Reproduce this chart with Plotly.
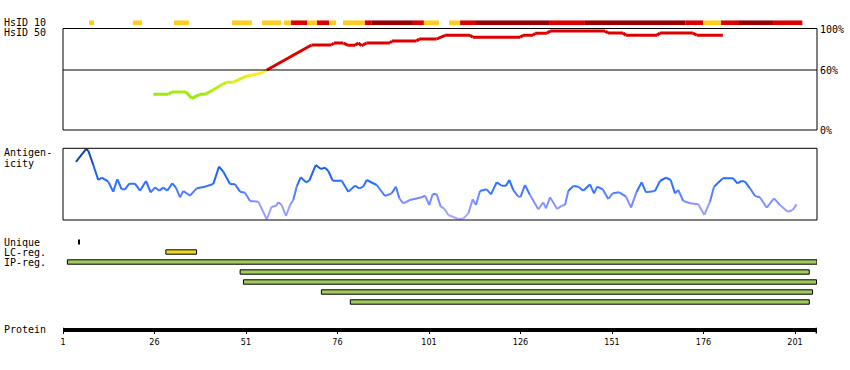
import plotly.graph_objects as go

# ---------------- data ----------------
# HsID 10 identity segments (residue start, end, class)
hs10_start = [8.1, 20.1, 31.3, 47.2, 55.4, 61.4, 63.3, 67.7, 70.4, 73.7, 77.5, 83.5, 85.4, 96.6,
              99.6, 106.5, 109.5, 113.6, 133.8, 143.6, 171.0, 175.9, 180.8, 185.7, 195.0]
hs10_end = [9.5, 22.6, 35.4, 52.6, 60.6, 63.3, 67.7, 70.4, 73.7, 75.6, 83.5, 85.4, 96.6, 99.6,
            103.7, 109.5, 113.6, 133.8, 143.6, 171.0, 175.9, 180.8, 185.7, 195.0, 203.0]
hs10_class = ["mid", "mid", "mid", "mid", "mid", "mid", "high", "mid", "high", "mid", "mid", "high",
              "top", "high", "mid", "mid", "high", "top", "high", "top", "high", "mid", "high", "top", "high"]

# HsID 50 identity (%)
hs50_res = [25.7, 29.8, 30.7, 34.6, 36.2, 38.4, 39.8, 40.3, 42.0, 43.9, 45.7, 47.4, 51.5, 52.9, 54.8,
            56.7, 68.9, 74.4, 75.0, 77.6, 78.9, 80.8, 81.7, 82.6, 83.9, 90.3, 90.9, 97.6, 98.3, 103.1,
            105.4, 112.2, 113.0, 125.9, 126.7, 129.4, 130.0, 133.2, 134.1, 149.1, 149.9, 154.0, 154.8,
            163.3, 164.1, 173.1, 174.2, 181.3]
hs50_val = [35.7, 35.7, 38, 38, 31.7, 35.7, 35.7, 36.7, 40, 44.3, 47.7, 47.7, 54.3, 55, 56.7,
            60, 85, 85, 87, 87, 84.7, 84.7, 87, 84.3, 87, 87, 89, 89, 91, 91,
            94.7, 94.7, 92.7, 92.7, 94.7, 94.7, 96.7, 96.7, 99, 99, 97, 97, 94.7,
            94.7, 97, 97, 94.7, 94.7]

# Antigenicity (relative score 0-100)
ag_res = [4.55, 7.28, 7.91, 9.28, 10.64, 11.57, 13.38, 14.74, 15.84, 17.04, 17.94, 19.11, 20.67, 22.04,
          23.68, 24.96, 26.14, 27.31, 28.40, 29.50, 30.86, 31.87, 32.97, 33.87, 35.70, 37.53, 39.80,
          42.07, 43.62, 44.80, 46.63, 47.99, 49.36, 50.73, 52.09, 54.36, 56.66, 58.02, 59.20, 59.83,
          60.75, 61.93, 63.02, 63.92, 64.85, 65.94, 67.39, 68.30, 70.04, 71.49, 72.58, 73.49, 74.69,
          77.15, 78.95, 80.78, 81.96, 83.05, 83.98, 86.71, 88.98, 90.81, 91.98, 92.89, 93.98, 95.81,
          99.01, 99.91, 101.08, 102.01, 103.10, 104.20, 105.10, 106.27, 109.01, 110.37, 111.74, 112.94,
          113.84, 114.93, 116.77, 117.94, 119.50, 120.86, 122.04, 122.94, 124.03, 125.40, 126.05,
          127.23, 128.60, 130.86, 132.23, 132.97, 134.06, 136.05, 137.25, 138.16, 139.06, 140.43,
          141.79, 143.16, 144.99, 146.08, 146.98, 148.46, 149.99, 151.19, 152.99, 154.83, 156.19,
          157.75, 159.11, 160.29, 162.75, 164.11, 165.75, 167.04, 168.21, 169.11, 170.48, 172.31,
          174.58, 176.22, 177.77, 178.87, 179.88, 181.25, 184.14, 185.23, 186.44, 187.34, 188.70,
          190.07, 191.44, 193.27, 195.26, 196.90, 199.00, 200.37, 201.46]
ag_val = [81, 99, 96.7, 76.7, 55.8, 59, 53.4, 39.5, 56.8, 42.8, 42.8, 50.7, 50.7, 40.9,
          54.4, 38.6, 45.6, 40.9, 45.1, 40.9, 51.2, 45.1, 31.6, 40.4, 33.9, 44.2, 46.5,
          50.2, 74.4, 67.4, 50.2, 49.8, 39.5, 38.1, 26.5, 25.6, 1, 18.6, 19.5, 24.7,
          20.9, 5.6, 20.9, 27.9, 46.5, 59.5, 52.6, 54.9, 76.7, 71.1, 73, 68.3, 54.8,
          54.8, 39.5, 47.8, 44.2, 46.5, 55.8, 48.8, 33.5, 37.2, 46.5, 30.2, 23.3, 27.9,
          31.6, 33.9, 20.9, 36.3, 35.8, 18.6, 16.3, 7, 1.4, 2, 9.3, 28.8,
          20.9, 40.4, 42.8, 35.8, 52.6, 47.8, 47.8, 55.8, 41.8, 32.5, 32.5,
          48.8, 34.9, 14.9, 24.7, 16.3, 31.6, 15.3, 20, 20.9, 40.4, 47.4,
          46.5, 40.9, 49.8, 37.2, 46.5, 42.8, 29.3, 37.2, 38.6, 32.5, 17.2,
          39.5, 52.6, 38.6, 40.4, 54.4, 59, 55.8, 37.2, 41.8, 26.5, 23.3,
          21.9, 7, 25.6, 46.5, 51.2, 58.1, 58.1, 51.2, 54.4, 53.5, 44.2,
          33.5, 31.6, 17.2, 30.2, 20.9, 11.6, 14, 21.9]

# Feature regions
unique_start, unique_end = [5.2], [5.6]
lc_start, lc_end = [29.1], [37.5]
ip_start = [2.2, 49.4, 50.3, 71.6, 79.5]
ip_end = [207.0, 204.9, 206.9, 205.8, 204.9]

protein_length = 206.9
tick_vals = [1, 26, 51, 76, 101, 126, 151, 176, 201]
pct_vals = [100, 60, 0]
pct_text = ["100%", "60%", "0%"]

# ---------------- helpers ----------------
W, H = 850, 370
L = 63
PW = 754
R = W - L - PW


def py(y):
    return 1 - y / H


def pxx(x):
    return (x - L) / PW


def mix(c1, c2, t):
    t = max(0.0, min(1.0, t))
    return "rgb(%d,%d,%d)" % tuple(round(a + (b - a) * t) for a, b in zip(c1, c2))


def hs50_color(v):
    if v >= 60:
        return "#dd0000"
    return mix((150, 236, 10), (255, 238, 34), (v - 35) / 22)


ag_stops = [(0, (182, 170, 255)), (25, (130, 145, 255)), (45, (50, 115, 255)),
            (65, (25, 100, 245)), (82, (18, 80, 190)), (100, (10, 60, 140))]


def ag_color(v):
    for (v0, c0), (v1, c1) in zip(ag_stops[:-1], ag_stops[1:]):
        if v <= v1:
            return mix(c0, c1, (v - v0) / (v1 - v0))
    return mix(ag_stops[-1][1], ag_stops[-1][1], 0)


class_color = {"mid": "#ffcc22", "high": "#dd0000", "top": "#990000"}
FONT = "DejaVu Sans Mono"

fig = go.Figure()

# HsID 10 bar
fig.add_trace(go.Bar(orientation="h", y=[0] * len(hs10_start),
                     x=[e - s for s, e in zip(hs10_start, hs10_end)], base=hs10_start,
                     width=1, marker=dict(color=[class_color[c] for c in hs10_class], line=dict(width=0)),
                     xaxis="x", yaxis="y4", hoverinfo="skip"))

# HsID 50 line, coloured per segment
for i in range(len(hs50_res) - 1):
    c = hs50_color((hs50_val[i] + hs50_val[i + 1]) / 2)
    fig.add_trace(go.Scatter(x=hs50_res[i:i + 2], y=hs50_val[i:i + 2], mode="lines",
                             line=dict(color=c, width=3), xaxis="x", yaxis="y", hoverinfo="skip"))

# Antigenicity line
for i in range(len(ag_res) - 1):
    c = ag_color((ag_val[i] + ag_val[i + 1]) / 2)
    fig.add_trace(go.Scatter(x=ag_res[i:i + 2], y=ag_val[i:i + 2], mode="lines",
                             line=dict(color=c, width=2), xaxis="x", yaxis="y2", hoverinfo="skip"))

# Feature bars
fig.add_trace(go.Bar(orientation="h", y=[0], x=[unique_end[0] - unique_start[0]], base=unique_start,
                     width=0.5, marker=dict(color="black", line=dict(width=0)),
                     xaxis="x", yaxis="y3", hoverinfo="skip"))
fig.add_trace(go.Bar(orientation="h", y=[1], x=[lc_end[0] - lc_start[0]], base=lc_start,
                     width=0.44, marker=dict(color="#ecd424", line=dict(color="black", width=1)),
                     xaxis="x", yaxis="y3", hoverinfo="skip"))
fig.add_trace(go.Bar(orientation="h", y=list(range(2, 2 + len(ip_start))),
                     x=[e - s for s, e in zip(ip_start, ip_end)], base=ip_start,
                     width=0.44, marker=dict(color="#a0cb5c", line=dict(color="black", width=1)),
                     xaxis="x", yaxis="y3", hoverinfo="skip"))

shapes = [
    dict(type="rect", xref="x domain", yref="y domain", x0=0, x1=1, y0=0, y1=1,
         line=dict(color="black", width=1)),
    dict(type="line", xref="x domain", yref="y", x0=0, x1=1, y0=60, y1=60,
         line=dict(color="black", width=1)),
    dict(type="rect", xref="x domain", yref="y2 domain", x0=0, x1=1, y0=0, y1=1,
         line=dict(color="black", width=1)),
]
# end caps of the protein axis
for xv in [1, protein_length]:
    shapes.append(dict(type="line", xref="x", yref="paper", x0=xv, x1=xv, y0=py(327.7), y1=py(333.5),
                       line=dict(color="black", width=2)))

annots = []
for txt, y in [("HsID 10", 22.3), ("HsID 50", 32.7), ("Antigen-", 152.7), ("icity", 163.3),
               ("Unique", 242.7), ("LC-reg.", 252.7), ("IP-reg.", 262.7), ("Protein", 329.5)]:
    annots.append(dict(text=txt, xref="paper", yref="paper", x=pxx(2), y=py(y), xanchor="left",
                       yanchor="middle", showarrow=False, font=dict(family=FONT, size=10, color="black")))
for v, t in zip(pct_vals, pct_text):
    annots.append(dict(text=t, xref="paper", yref="y", x=pxx(818), y=v, xanchor="left",
                       yanchor="middle", showarrow=False, font=dict(family=FONT, size=10, color="black")))

fig.update_layout(
    width=W, height=H, margin=dict(l=L, r=R, t=0, b=0, autoexpand=False),
    plot_bgcolor="white", paper_bgcolor="white", showlegend=False, barmode="overlay",
    shapes=shapes, annotations=annots,
    xaxis=dict(range=[1, 1 + PW / 3.66], anchor="free", position=py(329.7), showline=True,
               linewidth=4, linecolor="black", ticks="outside", ticklen=2, tickwidth=1,
               tickcolor="black", tickvals=tick_vals, showgrid=False, zeroline=False,
               tickfont=dict(family="DejaVu Sans Condensed", size=9, color="black")),
    yaxis=dict(domain=[py(130), py(28.5)], range=[0, 101.5], visible=False),
    yaxis2=dict(domain=[py(220), py(148.3)], range=[0, 100], visible=False),
    yaxis3=dict(domain=[py(307), py(237)], range=[6.5, -0.5], visible=False),
    yaxis4=dict(domain=[py(25.3), py(20.3)], range=[-0.5, 0.5], visible=False),
)

fig.write_html("out.html", config={"displayModeBar": False},
               post_script="document.body.style.margin='0';")
